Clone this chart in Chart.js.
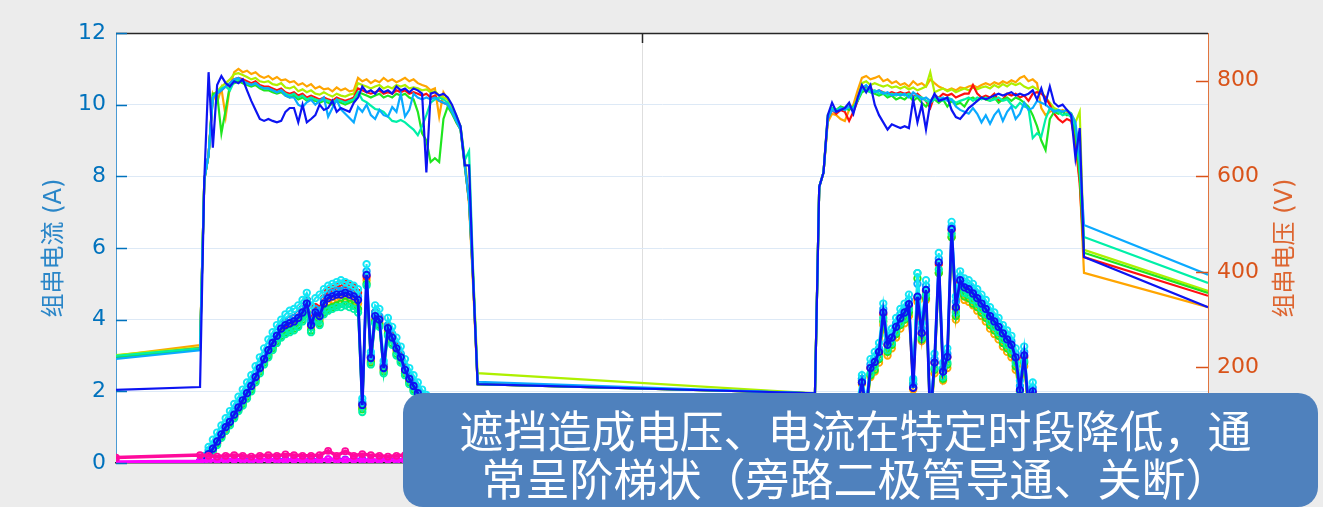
<!DOCTYPE html>
<html>
<head>
<meta charset="utf-8">
<script src="https://cdn.jsdelivr.net/npm/chart.js@4/dist/chart.umd.min.js"></script>
<style>
  html, body { margin: 0; padding: 0; background: #ececec; }
  #wrap { position: relative; width: 1323px; height: 507px; overflow: hidden; }
  canvas { display: block; }
  .note {
    position: absolute; left: 403px; top: 393px; width: 915px; height: 114px;
    box-sizing: border-box; padding: 12px 10px 0 0;
    background: #4f81bd; border-radius: 20px; color: #ffffff;
    font: 44px/48px "Noto Sans CJK SC", sans-serif; text-align: center; white-space: nowrap;
  }
</style>
</head>
<body>
<div id="wrap">
  <canvas id="c" width="1323" height="507"></canvas>
  <div class="note">遮挡造成电压、电流在特定时段降低，通<br>常呈阶梯状（旁路二极管导通、关断）</div>
</div>
<script>
// ---- time base (hours since midnight of day 1) ----
const X_MIN = 3.47, X_MAX = 46.09, MIDNIGHT = 24;
const STEP = 1 / 6;        // 10-minute logger interval
const LOW_STEP = 1 / 3;    // 20-minute interval for the idle strings
const DAY1_START = 6.75, DAY2_START = 30.75;

// ---- axis ticks ----
const LEFT_TICKS = [0, 2, 4, 6, 8, 10, 12];
const RIGHT_TICKS = [0, 200, 400, 600, 800];
const LEFT_TITLE = '组串电流 (A)';
const RIGHT_TITLE = '组串电压 (V)';

// ---- string voltages (V): order orange, yellow-green, red, green, spring, light blue, blue ----
const V_NIGHT_START = [225, 226, 222, 220, 224, 218, 153];
const V_NIGHT_END   = [326, 360, 350, 356, 377, 394, 326];

const vOrange1 = [247,593,645,773,754,784,725,788,818,825, 818,821,814,818,810,806,810,803,808,801, 803,797,799,791,795,788,793,784,788,782, 784,778,786,780,784,778,780,806,799,803, 795,801,797,806,799,803,797,801,806,799, 803,795,791,788,780,784,725,776,761,743, 713,698,630,540,360,165];
const vOrange2 = [146,578,608,713,731,728,720,716,739,750, 780,806,810,803,806,810,799,803,795,799, 791,795,788,799,791,795,788,803,795,788, 784,780,784,780,786,784,788,791,786,791, 795,791,797,793,799,795,801,797,806,810, 799,803,795,743,728,735,739,735,739,735, 728,680,590,398];

const vYellow1 = [242,593,645,770,778,788,795,803,814,816, 812,808,803,806,799,797,799,793,791,795, 786,784,788,778,782,776,780,773,771,776, 771,767,773,769,767,771,773,795,791,788, 784,788,791,784,788,784,791,788,791,784, 786,784,780,782,776,778,769,765,761,746, 728,705,634,555,390,188];
const vYellow2 = [146,578,608,720,739,735,743,739,746,743, 765,795,799,791,795,791,788,791,786,788, 784,788,782,786,780,784,788,818,776,780, 784,778,782,776,780,784,780,786,782,786, 788,784,791,786,793,788,795,791,795,788, 784,788,782,778,765,754,743,739,735,739, 731,713,735,446];

const vRed1 = [240,593,645,765,773,780,788,795,803,806, 803,799,795,799,791,788,788,784,780,784, 776,773,776,769,773,765,769,765,761,765, 761,758,765,761,758,761,765,784,780,776, 773,776,780,773,776,773,780,776,780,773, 776,773,769,773,765,769,758,754,750,735, 716,701,623,548,375,165];
const vRed2 = [146,578,608,720,739,731,739,735,716,735, 758,784,788,784,776,780,776,773,776,773, 776,773,776,765,773,765,758,743,769,765, 773,769,773,765,769,773,773,791,773,765, 769,765,773,758,761,773,769,773,765,769, 758,773,776,773,765,750,731,720,713,720, 716,668,585,431];

const vGreen1 = [238,593,645,773,773,690,739,791,795,799, 795,791,788,791,784,780,780,776,773,776, 769,765,769,761,765,758,761,758,754,758, 754,750,758,754,750,754,758,776,773,769, 765,769,773,765,769,765,773,769,773,765, 761,735,690,675,630,638,630,720,746,731, 713,698,620,548,375,165];
const vGreen2 = [146,578,608,728,743,739,746,743,739,746, 758,776,780,776,773,769,773,765,769,761, 765,761,769,758,765,754,746,758,761,754, 761,746,758,750,754,746,761,765,758,765, 761,758,765,754,761,765,758,765,761,754, 746,728,705,675,655,720,735,731,735,728, 731,690,600,440];

const vSpring1 = [240,593,645,765,776,784,788,780,799,803, 799,795,791,795,788,784,784,780,776,780, 773,769,773,765,769,761,765,761,758,761, 758,754,761,758,754,758,761,776,760,755, 748,741,739,735,725,716,714,718,713,705, 698,686,705,728,754,761,765,761,754,739, 720,705,634,653,390,165];
const vSpring2 = [146,578,608,724,743,739,743,739,746,743, 761,780,784,776,780,773,776,769,773,769, 773,769,773,765,769,765,758,754,761,765, 758,765,761,754,758,761,765,758,765,761, 765,758,761,765,758,761,750,743,754,746, 743,680,690,683,720,743,739,735,728,731, 724,705,620,473];

const vSky1 = [236,593,645,765,773,780,788,795,803,806, 799,795,791,795,788,784,784,780,776,780, 769,765,765,750,745,755,760,750,758,765, 725,743,760,740,731,722,713,745,735,750, 728,720,739,728,725,745,735,773,725,739, 773,765,761,765,761,765,758,754,750,735, 716,698,623,548,375,170];
const vSky2 = [146,578,608,720,739,735,743,739,746,739, 761,784,791,780,776,780,773,776,769,773, 769,773,765,776,769,761,765,758,769,761, 765,758,761,746,739,735,731,743,731,713, 728,710,728,739,716,735,746,720,731,754, 739,743,758,754,750,743,735,739,735,739, 731,713,638,498];

const vBlue1 = [159,593,818,660,791,810,795,788,799,795, 803,780,758,739,720,716,720,716,713,716, 735,743,743,713,750,713,720,728,750,739, 743,758,735,743,739,735,754,765,788,776, 780,773,784,776,780,773,788,780,784,776, 784,780,773,608,773,776,769,773,765,750, 728,705,623,623,375,165];
const vBlue2 = [146,578,608,728,754,735,739,743,754,731, 765,791,776,791,750,728,713,698,709,705, 701,705,701,761,713,750,698,754,773,758, 761,765,739,724,720,731,743,750,758,765, 761,765,769,773,769,773,776,769,773,769, 773,780,761,784,754,788,754,746,750,739, 728,638,701,431];

// ---- string currents (A) ----
const iBlue1 = [0.05,0.1,0.25,0.4,0.6,0.8,1.0,1.15,1.35,1.55, 1.75,1.95,2.15,2.4,2.65,2.9,3.15,3.35,3.55,3.75, 3.85,3.9,3.95,4.05,4.2,4.45,3.85,4.2,4.1,4.45, 4.6,4.65,4.7,4.7,4.75,4.7,4.65,4.55,1.62,5.25, 2.93,4.1,4.0,2.65,3.76,3.5,3.2,2.95,2.6,2.35, 2.15,1.95,1.8,1.65,1.5,1.3,1.1,0.9,0.7,0.5, 0.35,0.2,0.1,0.05,0.05,0.05];
const iBlue2 = [0.05,0.3,0.5,0.7,0.85,1.0,1.1,1.25,1.4,1.5, 1.6,2.25,1.5,2.65,2.82,3.1,4.2,3.3,3.5,3.8, 4.04,4.2,4.43,2.1,4.64,3.63,4.83,1.2,2.8,5.6, 2.55,2.96,6.53,4.35,5.1,4.9,4.85,4.73,4.6,4.45, 4.3,4.1,3.95,3.8,3.62,3.45,3.3,2.95,2.04,3.0, 1.6,2.0,1.4,1.0,0.5,0.2,0.05,0.05,0.05,0.05, 0.05,0.05,0.05,0.05];

const iCyan1 = [0.0,0.2,0.45,0.65,0.85,1.05,1.25,1.45,1.65,1.85, 2.05,2.25,2.45,2.7,2.95,3.2,3.45,3.65,3.85,4.0, 4.15,4.25,4.3,4.4,4.55,4.75,4.4,4.6,4.7,4.85, 4.95,5.0,5.05,5.1,5.05,5.0,4.95,4.85,1.8,5.55, 3.1,4.4,4.3,2.85,4.05,3.8,3.5,3.25,2.9,2.65, 2.45,2.25,2.05,1.9,1.7,1.5,1.3,1.1,0.9,0.7, 0.5,0.3,0.15,0.05,0.0,0.0];
const iCyan2 = [0.0,0.35,0.6,0.8,0.95,1.1,1.25,1.4,1.55,1.65, 1.8,2.45,1.7,2.9,3.1,3.35,4.45,3.55,3.75,4.05, 4.3,4.45,4.7,2.35,5.3,3.9,5.1,1.4,3.05,5.86, 2.8,3.2,6.73,4.65,5.35,5.15,5.1,5.0,4.85,4.7, 4.55,4.35,4.2,4.05,3.85,3.7,3.55,3.2,2.3,3.25, 1.85,2.25,1.6,1.2,0.65,0.3,0.05,0.0,0.0,0.0, 0.0,0.0,0.0,0.0];

const iSky1 = [0.0,0.15,0.35,0.5,0.7,0.9,1.1,1.3,1.45,1.65, 1.85,2.05,2.25,2.5,2.75,3.0,3.25,3.45,3.65,3.85, 3.95,4.0,4.05,4.15,4.3,4.55,3.95,4.3,4.25,4.55, 4.7,4.75,4.8,4.8,4.85,4.8,4.75,4.65,1.7,5.35, 3.0,4.2,4.1,2.75,3.85,3.6,3.3,3.05,2.7,2.45, 2.25,2.05,1.9,1.75,1.55,1.35,1.15,0.95,0.75,0.55, 0.4,0.25,0.1,0.05,0.0,0.0];
const iSky2 = [0.0,0.3,0.55,0.75,0.9,1.05,1.15,1.3,1.45,1.55, 1.7,2.35,1.6,2.75,2.95,3.2,4.3,3.4,3.6,3.9, 4.15,4.3,4.55,2.2,5.0,3.75,4.95,1.3,2.9,5.7, 2.65,3.05,6.6,4.5,5.2,5.0,4.95,4.85,4.7,4.55, 4.4,4.2,4.05,3.9,3.72,3.55,3.4,3.05,2.15,3.1, 1.7,2.1,1.5,1.1,0.55,0.25,0.05,0.0,0.0,0.0, 0.0,0.0,0.0,0.0];

const iSpring1 = [0.0,0.05,0.2,0.35,0.5,0.7,0.9,1.05,1.25,1.45, 1.6,1.8,2.0,2.25,2.5,2.75,2.95,3.15,3.35,3.5, 3.6,3.65,3.7,3.8,3.95,4.15,3.65,3.95,3.85,4.15, 4.25,4.3,4.35,4.35,4.4,4.35,4.3,4.2,1.42,4.95, 2.75,3.9,3.8,2.5,3.55,3.3,3.0,2.8,2.45,2.2, 2.0,1.85,1.7,1.55,1.4,1.2,1.0,0.8,0.6,0.45, 0.3,0.15,0.05,0.0,0.0,0.0];
const iSpring2 = [0.0,0.25,0.45,0.65,0.8,0.95,1.05,1.2,1.35,1.45, 1.55,2.35,1.4,2.5,2.7,2.95,4.05,3.15,3.35,3.65, 3.9,4.05,4.3,2.3,5.3,3.5,4.7,1.1,2.65,5.4, 2.4,2.8,6.4,4.2,4.95,4.75,4.7,4.55,4.45,4.3, 4.15,3.95,3.8,3.65,3.45,3.3,3.15,2.8,1.95,2.85, 1.5,1.9,1.3,0.9,0.45,0.15,0.0,0.0,0.0,0.0, 0.0,0.0,0.0,0.0];

const iGreen1 = [0.0,0.05,0.2,0.35,0.55,0.75,0.9,1.1,1.3,1.5, 1.65,1.85,2.05,2.3,2.55,2.8,3.0,3.2,3.4,3.55, 3.65,3.7,3.75,3.85,4.0,4.2,3.7,4.0,3.9,4.2, 4.3,4.35,4.4,4.45,4.5,4.45,4.4,4.3,1.5,5.0, 2.8,3.95,3.85,2.55,3.6,3.35,3.05,2.85,2.5,2.25, 2.05,1.85,1.7,1.55,1.4,1.2,1.0,0.8,0.6,0.45, 0.3,0.15,0.05,0.0,0.0,0.0];
const iGreen2 = [0.0,0.25,0.45,0.6,0.75,0.9,1.0,1.15,1.3,1.4, 1.5,2.3,1.35,2.45,2.6,2.9,3.95,3.1,3.3,3.6, 3.85,4.0,4.2,2.2,5.15,3.45,4.6,1.0,2.6,5.3, 2.35,2.75,6.3,4.1,4.85,4.65,4.6,4.45,4.35,4.2, 4.05,3.85,3.7,3.55,3.35,3.2,3.05,2.7,1.85,2.8, 1.4,1.8,1.2,0.8,0.4,0.1,0.0,0.0,0.0,0.0, 0.0,0.0,0.0,0.0];

const iRed1 = [0.0,0.1,0.25,0.4,0.6,0.8,1.0,1.15,1.35,1.55, 1.75,1.95,2.15,2.4,2.65,2.9,3.15,3.35,3.55,3.75, 3.9,4.0,4.05,4.15,4.3,4.55,4.0,4.35,4.3,4.6, 4.8,4.85,4.9,4.95,5.0,4.95,4.9,4.75,1.65,5.2, 2.95,4.2,4.05,2.7,3.8,3.55,3.25,3.0,2.65,2.4, 2.2,2.0,1.85,1.7,1.5,1.3,1.1,0.9,0.7,0.5, 0.35,0.2,0.1,0.05,0.0,0.0];
const iRed2 = [0.0,0.3,0.5,0.7,0.85,1.0,1.1,1.25,1.4,1.5, 1.6,2.25,1.5,2.65,2.8,3.05,4.15,3.3,3.5,3.8, 4.0,4.2,4.4,2.1,4.6,3.6,4.8,1.2,2.8,5.55, 2.55,2.95,6.5,4.3,5.05,4.85,4.8,4.7,4.55,4.4, 4.25,4.05,3.9,3.75,3.6,3.4,3.25,2.9,2.0,2.95, 1.55,1.95,1.35,0.95,0.5,0.2,0.05,0.0,0.0,0.0, 0.0,0.0,0.0,0.0];

const iOrange1 = [0.0,0.05,0.2,0.35,0.55,0.75,0.95,1.1,1.3,1.5, 1.7,1.9,2.1,2.35,2.6,2.85,3.05,3.25,3.45,3.65, 3.75,3.8,3.85,3.95,4.1,4.35,3.8,4.1,4.0,4.35, 4.5,4.55,4.6,4.6,4.65,4.6,4.55,4.45,1.55,5.1, 2.85,4.0,3.9,2.6,3.7,3.45,3.15,2.9,2.55,2.3, 2.1,1.9,1.75,1.6,1.45,1.25,1.05,0.85,0.65,0.5, 0.3,0.15,0.05,0.0,0.0,0.0];
const iOrange2 = [0.0,0.2,0.4,0.55,0.7,0.85,0.95,1.1,1.25,1.35, 1.45,2.2,1.3,2.4,2.55,2.8,3.85,3.0,3.2,3.5, 3.75,3.9,4.1,2.05,4.5,3.4,4.55,1.0,2.5,5.3, 2.3,2.65,6.3,4.0,4.75,4.55,4.5,4.4,4.25,4.1, 3.95,3.75,3.6,3.45,3.25,3.1,2.95,2.6,1.8,2.7, 1.35,1.75,1.15,0.8,0.4,0.1,0.0,0.0,0.0,0.0, 0.0,0.0,0.0,0.0];

// ---- idle strings (A), 20-minute samples ----
const iPink1 = [0.22,0.2,0.18,0.2,0.22,0.2,0.18,0.2,0.22,0.2, 0.24,0.22,0.2,0.2,0.22,0.34,0.2,0.33,0.2,0.25, 0.22,0.2,0.18,0.2,0.22,0.2,0.18,0.2,0.22,0.2, 0.18,0.15,0.15];
const iPink2 = [0.15,0.2,0.22,0.2,0.18,0.22,0.2,0.24,0.2,0.22, 0.2,0.26,0.22,0.2,0.18,0.22,0.2,0.24,0.22,0.2, 0.18,0.22,0.2,0.22,0.2,0.18,0.2,0.22,0.2,0.18, 0.15,0.15];
const iMagenta1 = [0.05,0.07,0.08,0.06,0.09,0.07,0.06,0.08,0.1,0.07, 0.06,0.09,0.08,0.06,0.07,0.1,0.08,0.07,0.09,0.06, 0.08,0.07,0.09,0.06,0.08,0.07,0.06,0.08,0.07,0.05, 0.06,0.04,0.03];
const iMagenta2 = [0.03,0.05,0.07,0.08,0.06,0.09,0.07,0.08,0.06,0.1, 0.07,0.08,0.09,0.06,0.08,0.07,0.09,0.1,0.07,0.06, 0.08,0.09,0.07,0.06,0.08,0.07,0.06,0.05,0.06,0.04, 0.03,0.03];
const iViolet1 = [0.02,0.05,0.1,0.11,0.1,0.12,0.1,0.09,0.11,0.12, 0.1,0.11,0.09,0.12,0.1,0.11,0.13,0.1,0.12,0.11, 0.09,0.1,0.12,0.11,0.1,0.09,0.11,0.1,0.08,0.09, 0.06,0.04,0.02];
const iViolet2 = [0.02,0.05,0.09,0.11,0.1,0.12,0.11,0.1,0.12,0.1, 0.11,0.13,0.1,0.12,0.11,0.1,0.12,0.11,0.1,0.09, 0.11,0.12,0.1,0.11,0.09,0.1,0.08,0.07,0.06,0.04, 0.03,0.02];
const I_IDLE_NIGHT = [0.15, 0.03];   // pink, magenta before/after the logged days

// ---- build {x,y} series from the day arrays ----
function series(startVal, day1, day2, endVal, step) {
  const pts = [];
  if (startVal !== null) pts.push({ x: X_MIN, y: startVal });
  day1.forEach((v, i) => pts.push({ x: DAY1_START + i * step, y: v }));
  day2.forEach((v, i) => pts.push({ x: DAY2_START + i * step, y: v }));
  if (endVal !== null) pts.push({ x: X_MAX, y: endVal });
  return pts;
}

const COL = {
  orange: '#ffa500', yellow: '#aef000', red: '#ff1010', green: '#1fe61f',
  spring: '#00f0a8', sky: '#0aaaff', blue: '#0c14f2', cyan: '#14e6f5',
  pink: '#ff0a9c', magenta: '#ff00ff', violet: '#7a2cff'
};

function volt(label, color, k, d1, d2) {
  return {
    label, yAxisID: 'y1', data: series(V_NIGHT_START[k], d1, d2, V_NIGHT_END[k], STEP),
    borderColor: color, borderWidth: 2.2, pointRadius: 0, fill: false
  };
}
function amp(label, color, d1, d2, width) {
  return {
    label, yAxisID: 'y', data: series(null, d1, d2, null, STEP),
    borderColor: color, borderWidth: width, pointRadius: 3.2, pointBorderWidth: 1.9,
    pointBorderColor: color, pointBackgroundColor: 'rgba(0,0,0,0)', fill: false
  };
}
function idle(label, color, start, d1, d2, end, width) {
  return {
    label, yAxisID: 'y', data: series(start, d1, d2, end, LOW_STEP),
    borderColor: color, borderWidth: width, pointRadius: 3, pointBorderWidth: 1.8,
    pointBorderColor: color, pointBackgroundColor: 'rgba(0,0,0,0)', fill: false
  };
}

// first dataset is painted last (on top)
const datasets = [
  idle('I-P1', COL.pink, I_IDLE_NIGHT[0], iPink1, iPink2, I_IDLE_NIGHT[0], 3.5),
  idle('I-P2', COL.magenta, I_IDLE_NIGHT[1], iMagenta1, iMagenta2, I_IDLE_NIGHT[1], 3.5),
  idle('I-P3', COL.violet, null, iViolet1, iViolet2, null, 2),
  amp('I-7', COL.blue, iBlue1, iBlue2, 2.8),
  amp('I-8', COL.cyan, iCyan1, iCyan2, 2),
  amp('I-6', COL.sky, iSky1, iSky2, 2),
  amp('I-5', COL.spring, iSpring1, iSpring2, 2),
  amp('I-4', COL.green, iGreen1, iGreen2, 2),
  amp('I-3', COL.red, iRed1, iRed2, 2),
  amp('I-1', COL.orange, iOrange1, iOrange2, 2),
  volt('U-7', COL.blue, 6, vBlue1, vBlue2),
  volt('U-6', COL.sky, 5, vSky1, vSky2),
  volt('U-5', COL.spring, 4, vSpring1, vSpring2),
  volt('U-4', COL.green, 3, vGreen1, vGreen2),
  volt('U-3', COL.red, 2, vRed1, vRed2),
  volt('U-2', COL.yellow, 1, vYellow1, vYellow2),
  volt('U-1', COL.orange, 0, vOrange1, vOrange2)
];

const BLUE_AX = '#0072bd', ORANGE_AX = '#d95319';

// white plot box, inward tick marks, top border and rotated axis titles
const framePlugin = {
  id: 'frame',
  beforeDraw(chart) {
    const { ctx, chartArea: a } = chart;
    ctx.save();
    ctx.fillStyle = '#ffffff';
    ctx.fillRect(a.left, a.top, a.right - a.left, a.bottom - a.top);
    ctx.restore();
  },
  afterDraw(chart) {
    const { ctx, chartArea: a, scales } = chart;
    const seg = (x1, y1, x2, y2) => { ctx.beginPath(); ctx.moveTo(x1, y1); ctx.lineTo(x2, y2); ctx.stroke(); };
    ctx.save();
    ctx.lineWidth = 1.5;
    ctx.strokeStyle = '#262626';
    seg(a.left, a.top + 0.5, a.right, a.top + 0.5);
    const xm = Math.round(scales.x.getPixelForValue(MIDNIGHT)) + 0.5;
    seg(xm, a.top, xm, a.top + 10);
    ctx.strokeStyle = BLUE_AX;
    LEFT_TICKS.forEach(v => { const y = Math.round(scales.y.getPixelForValue(v)) + 0.5; seg(a.left, y, a.left + 11, y); });
    ctx.strokeStyle = ORANGE_AX;
    RIGHT_TICKS.forEach(v => { const y = Math.round(scales.y1.getPixelForValue(v)) + 0.5; seg(a.right - 12, y, a.right, y); });

    const midY = (a.top + a.bottom) / 2;
    ctx.font = '24px "DejaVu Sans", "Noto Sans CJK SC", sans-serif';
    ctx.textAlign = 'center';
    ctx.textBaseline = 'middle';
    ctx.fillStyle = '#2a86c8';
    ctx.translate(55, midY); ctx.rotate(-Math.PI / 2); ctx.fillText(LEFT_TITLE, 0, 0);
    ctx.setTransform(1, 0, 0, 1, 0, 0);
    ctx.fillStyle = '#dd6530';
    ctx.translate(1286, midY); ctx.rotate(-Math.PI / 2); ctx.fillText(RIGHT_TITLE, 0, 0);
    ctx.restore();
  }
};

Chart.defaults.font.family = '"DejaVu Sans", "Noto Sans CJK SC", sans-serif';

new Chart(document.getElementById('c'), {
  type: 'line',
  data: { datasets },
  options: {
    responsive: false, animation: false, devicePixelRatio: 1, events: [],
    layout: { padding: { top: 33, left: 0, right: 0, bottom: 0 } },
    plugins: { legend: { display: false }, tooltip: { enabled: false } },
    elements: { line: { tension: 0 } },
    scales: {
      x: {
        type: 'linear', min: X_MIN, max: X_MAX,
        afterBuildTicks: s => { s.ticks = [{ value: MIDNIGHT }]; },
        afterFit: s => { s.height = 44; },
        ticks: { display: false },
        grid: { color: '#dedede', drawTicks: false, lineWidth: 1 },
        border: { color: '#262626', width: 1.5 }
      },
      y: {
        position: 'left', min: 0, max: 12,
        afterBuildTicks: s => { s.ticks = LEFT_TICKS.map(v => ({ value: v })); },
        afterFit: s => { s.width = 116; },
        ticks: { color: BLUE_AX, font: { size: 22 }, padding: 10 },
        grid: {
          drawTicks: false, lineWidth: 1,
          color: c => (c.tick && (c.tick.value === 0 || c.tick.value === 12)) ? 'rgba(0,0,0,0)' : '#dde9f6'
        },
        border: { color: '#4a9ad4', width: 1 }
      },
      y1: {
        position: 'right', min: 0, max: 900,
        afterBuildTicks: s => { s.ticks = RIGHT_TICKS.map(v => ({ value: v })); },
        afterFit: s => { s.width = 115; },
        ticks: { color: ORANGE_AX, font: { size: 22 }, padding: 9 },
        grid: { display: false, drawTicks: false },
        border: { color: '#e0753f', width: 1 }
      }
    }
  },
  plugins: [framePlugin]
});
</script>
</body>
</html>
